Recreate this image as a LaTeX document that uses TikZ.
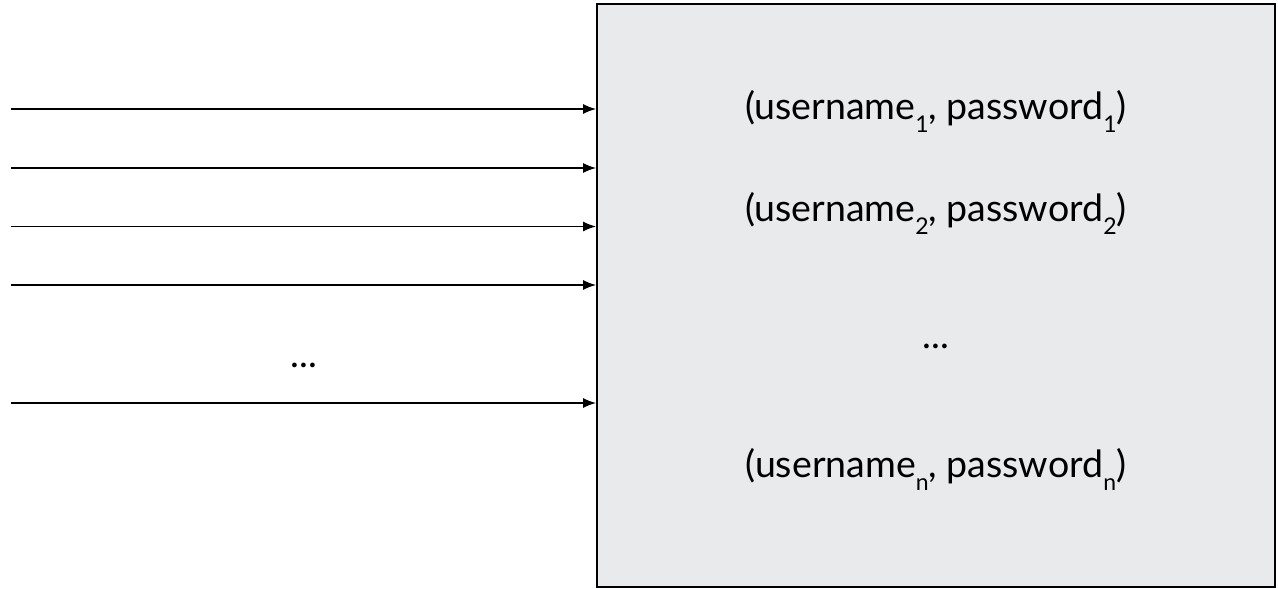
\documentclass[tikz,border=0pt]{standalone}
\usepackage{fontspec}
\setmainfont{Lato}
\usetikzlibrary{arrows.meta,positioning}
\definecolor{storefill}{HTML}{E8EAEB}
\newcommand{\lowsub}[1]{\raisebox{-0.36em}{\fontsize{23}{23}\selectfont #1}}

\begin{document}
\begin{tikzpicture}[x=1pt, y=-1pt, every node/.style={font=\fontsize{37.5}{44}\selectfont},
    inarrow/.style={-{Latex[length=13pt,width=10pt]}, line width=1.2pt}]
	\useasboundingbox (0,0) rectangle (1278,589);
	\node[draw, line width=2pt, fill=storefill, minimum width=678pt, minimum height=583pt, inner sep=0pt] (store) at (936,295.5) {};
	
	\node[anchor=base] (pair1) at (936,119) {(username\lowsub{1}, password\lowsub{1})};
	\node[anchor=base] (pair2) at (936,221) {(username\lowsub{2}, password\lowsub{2})};
	\node[anchor=base] (pairdots) at (936,348) {...};
	\node[anchor=base] (pairn) at (936,477) {(username\lowsub{n}, password\lowsub{n})};
	
	% requests coming in
	\foreach \y/\nm in {109/in1, 168/in2, 226.5/in3, 285/in4, 403/in5}{
		\coordinate (\nm) at (11,\y);
		\draw[inarrow] (\nm) -- (\nm -| store.west);
	}
	\node[anchor=base] (indots) at (304,367) {...};
\end{tikzpicture}
\end{document}
